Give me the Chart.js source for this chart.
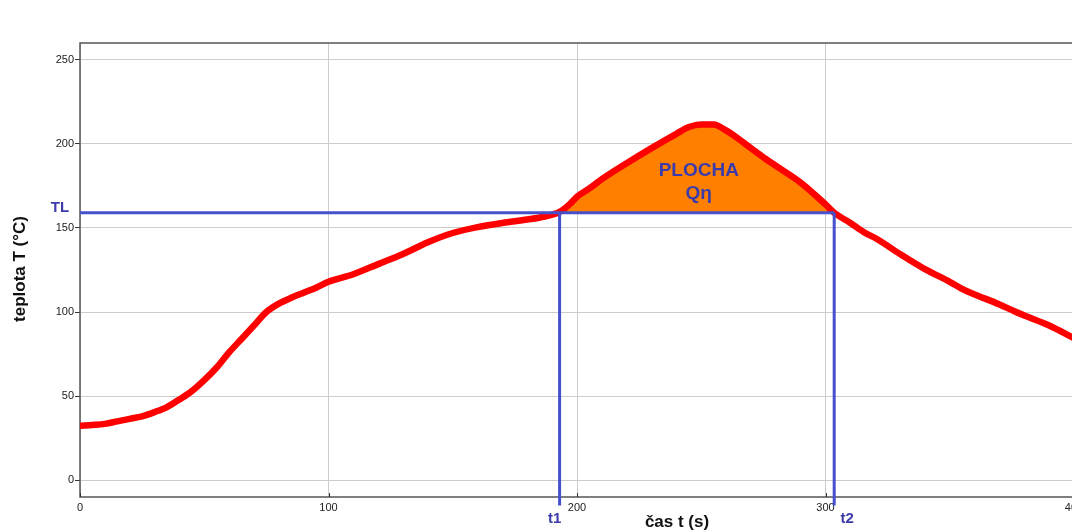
<!DOCTYPE html>
<html>
<head>
<meta charset="utf-8">
<script src="https://cdn.jsdelivr.net/npm/chart.js@4"></script>
<style>
  html, body { margin: 0; padding: 0; background: #fff; overflow: hidden; }
  #wrap { position: absolute; left: 0; top: 0; width: 1090px; height: 532px; }
</style>
</head>
<body>
<div id="wrap"><canvas id="tempChart" width="1090" height="532"></canvas></div>
<script>
// measured curve: time (s) vs temperature (°C)
const timeS = [0, 5, 10, 15, 20, 25, 30, 35, 40, 45, 50, 55, 60, 65, 70, 75, 80, 85, 90, 95,
    100, 110, 120, 130, 140, 150, 160, 170, 180, 187, 193, 197, 200, 205, 210, 220, 230, 240, 245,
    250, 255, 260, 265, 270, 276, 280, 290, 300, 303.5, 310, 316, 320, 330, 336, 340, 350, 356,
    360, 370, 376, 380, 390, 400];
const tempC = [32.3, 32.8, 33.5, 35, 36.5, 38, 40.5, 43.5, 48, 53, 59.5, 67, 76, 84, 92, 100, 105, 108.5, 111.5, 114.5,
    118, 122.5, 128.5, 134.5, 141.5, 147, 150.5, 153, 155, 156.8, 159.5, 164, 168.5, 173.5, 179, 188.5, 197.5, 206, 210,
    211.6, 211.5, 208, 203, 197.5, 191, 187, 177, 164, 159, 153, 147, 144, 134.5, 129, 125.5, 118, 113,
    110.5, 104.5, 100.5, 98, 92, 84.5];

const TL = 159;   // liquidus temperature
const t1 = 193;   // start of area
const t2 = 303.5; // end of area

const xTicks = [0, 100, 200, 300, 400];
const yTicks = [0, 50, 100, 150, 200, 250];

const BLUE = '#4450cc';
const TEXT_BLUE = '#3b3bab';
const FONT = '"Liberation Sans", Arial, sans-serif';

// points of the curve between t1 and t2 for the orange area
const areaPts = [{ x: t1, y: TL }];
timeS.forEach((t, i) => {
    if (t > t1 && t < t2) areaPts.push({ x: t, y: tempC[i] });
});
areaPts.push({ x: t2, y: TL });

const curvePts = timeS.map((t, i) => ({ x: t, y: tempC[i] }));

const overlay = {
    id: 'overlay',
    beforeDatasetsDraw(chart) {
        const a = chart.chartArea;
        const ctx = chart.ctx;
        const xs = chart.scales.x;
        ctx.save();
        ctx.strokeStyle = '#555';
        ctx.lineWidth = 1.5;
        ctx.strokeRect(a.left, a.top, a.right - a.left, a.bottom - a.top);
        // small inward tick marks on the time axis
        ctx.lineWidth = 1;
        ctx.strokeStyle = '#333';
        xTicks.forEach(v => {
            const px = Math.round(xs.getPixelForValue(v)) + 0.5;
            ctx.beginPath();
            ctx.moveTo(px, a.bottom);
            ctx.lineTo(px, a.bottom - 4);
            ctx.stroke();
        });
        ctx.restore();
    },
    afterDraw(chart) {
        const ctx = chart.ctx;
        const xs = chart.scales.x, ys = chart.scales.y;
        const a = chart.chartArea;
        ctx.save();
        ctx.textAlign = 'center';
        ctx.textBaseline = 'middle';

        ctx.fillStyle = TEXT_BLUE;
        ctx.font = 'bold 15px ' + FONT;
        ctx.fillText('TL', a.left - 20, ys.getPixelForValue(TL) - 5);
        ctx.fillText('t1', xs.getPixelForValue(t1) - 5, a.bottom + 22);
        ctx.fillText('t2', xs.getPixelForValue(t2) + 13, a.bottom + 22);

        ctx.font = 'bold 19px ' + FONT;
        ctx.fillText('PLOCHA', xs.getPixelForValue(249), ys.getPixelForValue(184));
        ctx.fillText('Qη', xs.getPixelForValue(249), ys.getPixelForValue(170.5));

        ctx.fillStyle = '#111';
        ctx.font = 'bold 17px ' + FONT;
        ctx.fillText('čas t (s)', 677, a.bottom + 25);

        ctx.translate(20, 269);
        ctx.rotate(-Math.PI / 2);
        ctx.fillText('teplota T (°C)', 0, 0);
        ctx.restore();
    }
};

const ctx = document.getElementById('tempChart').getContext('2d');
const tempChart = new Chart(ctx, {
    type: 'line',
    data: {
        datasets: [
            {
                label: 'TL',
                data: [{ x: 0, y: TL }, { x: t2, y: TL }],
                borderColor: BLUE,
                borderWidth: 3,
                pointRadius: 0,
                order: 0
            },
            {
                label: 't1',
                data: [{ x: t1, y: TL }, { x: t1, y: -15 }],
                borderColor: BLUE,
                borderWidth: 3,
                pointRadius: 0,
                clip: false,
                order: 0
            },
            {
                label: 't2',
                data: [{ x: t2, y: TL }, { x: t2, y: -15 }],
                borderColor: BLUE,
                borderWidth: 3,
                pointRadius: 0,
                clip: false,
                order: 0
            },
            {
                label: 'teplota',
                data: curvePts,
                borderColor: '#ff0000',
                borderWidth: 6.5,
                pointRadius: 0,
                cubicInterpolationMode: 'monotone',
                borderCapStyle: 'round',
                borderJoinStyle: 'round',
                order: 1
            },
            {
                label: 'plocha',
                data: areaPts,
                borderWidth: 0,
                borderColor: 'rgba(0,0,0,0)',
                backgroundColor: '#ff8000',
                fill: { value: TL },
                pointRadius: 0,
                cubicInterpolationMode: 'monotone',
                order: 2
            }
        ]
    },
    options: {
        responsive: false,
        animation: false,
        devicePixelRatio: 1,
        layout: { padding: { top: 43, right: 16, bottom: 0, left: 0 } },
        plugins: {
            legend: { display: false },
            tooltip: { enabled: false }
        },
        scales: {
            x: {
                type: 'linear',
                min: 0,
                max: 400,
                afterFit: s => { s.height = 35; },
                afterBuildTicks: s => { s.ticks = xTicks.map(v => ({ value: v })); },
                border: { display: false },
                grid: { color: '#cccccc', drawTicks: false, lineWidth: 1 },
                ticks: {
                    padding: 4,
                    maxRotation: 0,
                    color: '#222',
                    font: { family: FONT, size: 11 }
                }
            },
            y: {
                type: 'linear',
                min: -10,
                max: 260,
                afterFit: s => { s.width = 80; },
                afterBuildTicks: s => { s.ticks = yTicks.map(v => ({ value: v })); },
                border: { display: false },
                grid: { color: '#cccccc', tickColor: '#333', tickLength: 5, lineWidth: 1 },
                ticks: {
                    padding: 1,
                    color: '#222',
                    font: { family: FONT, size: 11 }
                }
            }
        }
    },
    plugins: [overlay]
});
</script>
</body>
</html>
